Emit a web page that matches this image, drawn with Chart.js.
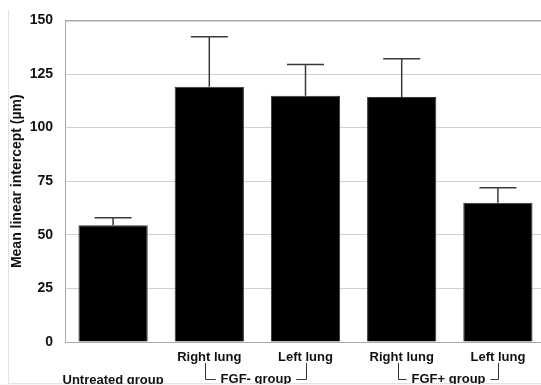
<!DOCTYPE html>
<html>
<head>
<meta charset="utf-8">
<script src="https://cdn.jsdelivr.net/npm/chart.js@4"></script>
<style>
  html, body { margin: 0; padding: 0; background: #fff; overflow: hidden; }
  #wrap { position: relative; width: 541px; height: 385px; overflow: hidden; }
  #frame { position: absolute; left: 8px; top: 10px; width: 600px; height: 373px;
           border-left: 1px solid #e2e2e2; border-bottom: 1px solid #e2e2e2; }
  #foot { position: absolute; left: 0; top: 384px; width: 541px; height: 2px; background: #f6f6f6; }
  canvas { position: absolute; left: 0; top: 0; }
</style>
</head>
<body>
<div id="wrap">
  <div id="frame"></div>
  <canvas id="lungChart" width="546" height="385"></canvas>
  <div id="foot"></div>
</div>
<script>
// data
const categories = ['Untreated group', 'Right lung', 'Left lung', 'Right lung', 'Left lung'];
const meanValues = [54.4, 119.1, 114.9, 114.3, 65.0];
const errorUp = [3.5, 23.3, 14.5, 17.8, 6.9];
const yTicks = [0, 25, 50, 75, 100, 125, 150];
const groupLabels = ['FGF- group', 'FGF+ group'];
const groupSpans = [[1, 2], [3, 4]];

const fontFam = "'Liberation Sans Narrow', 'Arial Narrow', 'Liberation Sans', sans-serif";

// error whiskers (upper only)
const errorBars = {
  id: 'errorBars',
  afterDatasetsDraw(chart) {
    const ctx = chart.ctx;
    const x = chart.scales.x, y = chart.scales.y;
    ctx.save();
    ctx.strokeStyle = '#3a3a3a';
    ctx.lineWidth = 1.5;
    meanValues.forEach(function (v, i) {
      const px = x.getPixelForValue(i);
      const top = y.getPixelForValue(v + errorUp[i]);
      const base = y.getPixelForValue(v);
      ctx.beginPath();
      ctx.moveTo(px, base);
      ctx.lineTo(px, top);
      ctx.moveTo(px - 18.5, top);
      ctx.lineTo(px + 18.5, top);
      ctx.stroke();
    });
    ctx.restore();
  }
};

// group brackets under the category labels
const groupBrackets = {
  id: 'groupBrackets',
  afterDraw(chart) {
    const ctx = chart.ctx;
    const x = chart.scales.x;
    const yTop = 363, yLine = 379, yText = 379;
    ctx.save();
    ctx.font = 'bold 13px ' + fontFam;
    ctx.fillStyle = '#111';
    ctx.strokeStyle = '#333';
    ctx.lineWidth = 1;
    ctx.textAlign = 'center';
    ctx.textBaseline = 'middle';
    groupLabels.forEach(function (lbl, g) {
      const x1 = Math.round(x.getPixelForValue(groupSpans[g][0])) - 3.5;
      const x2 = Math.round(x.getPixelForValue(groupSpans[g][1])) + 0.5;
      const mid = (x1 + x2) / 2;
      const w = ctx.measureText(lbl).width;
      ctx.beginPath();
      ctx.moveTo(x1, yTop);
      ctx.lineTo(x1, yLine + 0.5);
      ctx.lineTo(mid - w / 2 - 5, yLine + 0.5);
      ctx.moveTo(mid + w / 2 + 5, yLine + 0.5);
      ctx.lineTo(x2, yLine + 0.5);
      ctx.lineTo(x2, yTop);
      ctx.stroke();
      ctx.fillText(lbl, mid, yText);
    });
    ctx.restore();
  }
};

const ctx = document.getElementById('lungChart').getContext('2d');
const lungChart = new Chart(ctx, {
  type: 'bar',
  data: {
    labels: categories,
    datasets: [{
      data: meanValues,
      backgroundColor: '#000',
      borderColor: '#333',
      borderWidth: 1,
      categoryPercentage: 1.0,
      barPercentage: 0.72
    }]
  },
  options: {
    responsive: false,
    animation: false,
    layout: { padding: { top: 12, right: 0, left: 0, bottom: 0 } },
    plugins: { legend: { display: false }, tooltip: { enabled: false } },
    scales: {
      x: {
        afterFit: function (s) { s.height = 43; },
        grid: { display: false },
        border: { color: '#aaa', width: 1 },
        ticks: {
          color: '#111',
          padding: -4,
          maxRotation: 0,
          autoSkip: false,
          font: { family: fontFam, size: 13, weight: 'bold', lineHeight: 1.75 },
          callback: function (val, i) {
            return i === 0 ? ['', categories[i]] : [categories[i], ''];
          }
        }
      },
      y: {
        min: 0,
        max: 150,
        afterFit: function (s) { s.width = 65; },
        afterBuildTicks: function (s) { s.ticks = yTicks.map(function (v) { return { value: v }; }); },
        border: { color: '#aaa', width: 1 },
        grid: {
          drawTicks: false,
          color: function (c) { return c.tick && c.tick.value === 150 ? '#aaa' : '#d0d0d0'; },
          lineWidth: function (c) { return c.tick && c.tick.value === 150 ? 1.5 : 1; }
        },
        ticks: {
          color: '#111',
          padding: 12,
          font: { family: fontFam, size: 14, weight: 'bold' }
        },
        title: {
          display: true,
          text: 'Mean linear intercept (\u00b5m)',
          color: '#111',
          padding: { top: 9, bottom: 0 },
          font: { family: fontFam, size: 14, weight: 'bold' }
        }
      }
    }
  },
  plugins: [errorBars, groupBrackets]
});
</script>
</body>
</html>
